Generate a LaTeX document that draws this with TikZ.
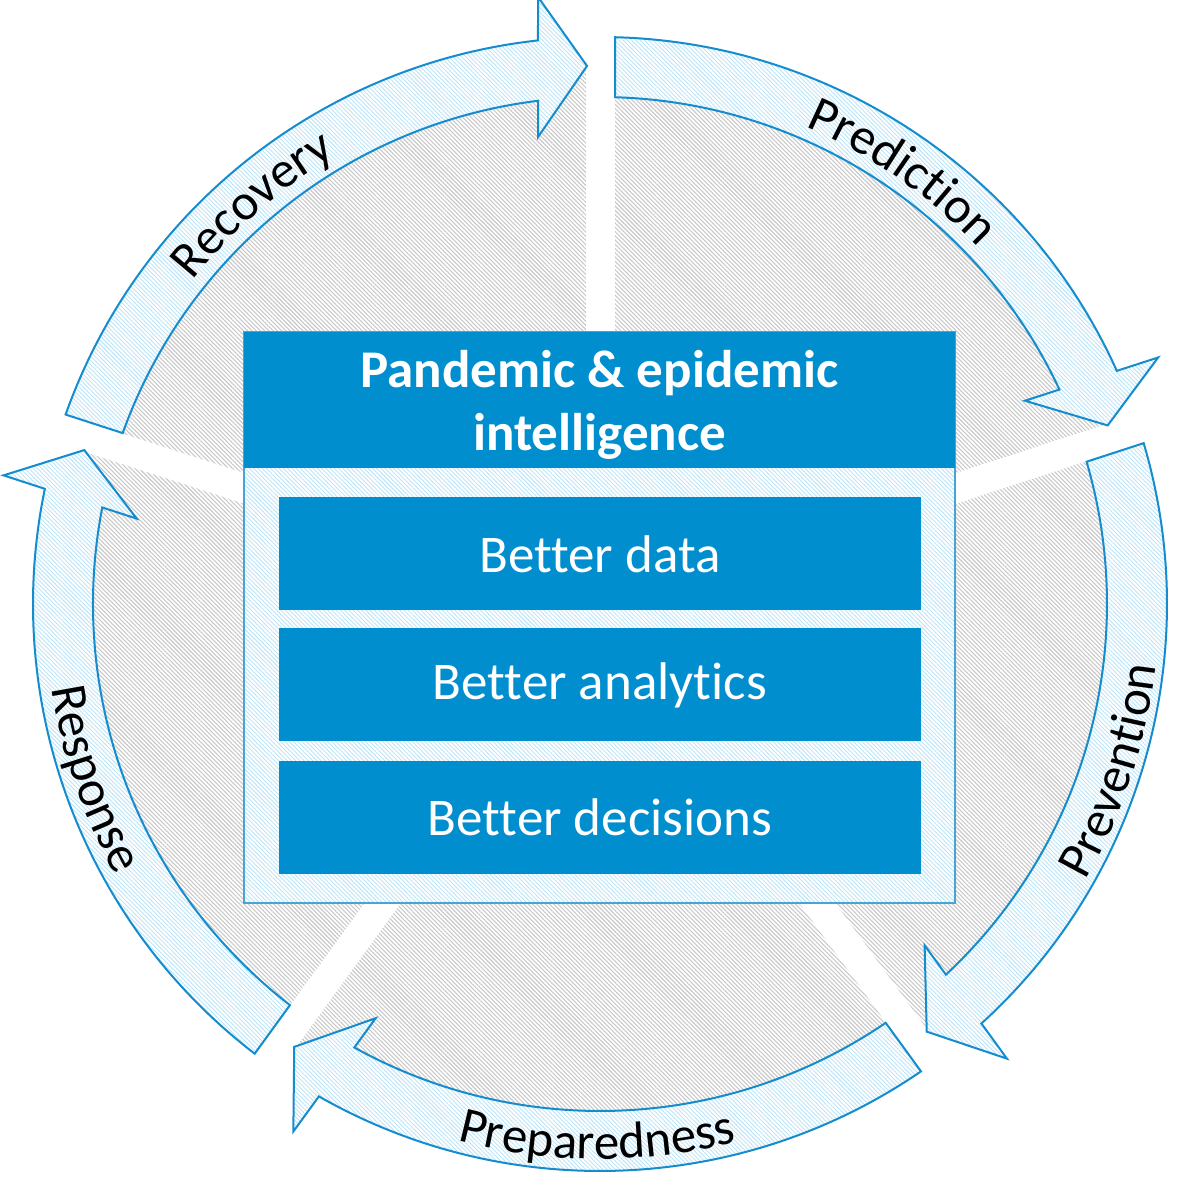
\documentclass[tikz,border=0pt]{standalone}
\usepackage{fontspec}
\setmainfont{Carlito}[Ligatures=CommonOff]
\usetikzlibrary{patterns.meta,decorations.text}
\definecolor{hdrblue}{RGB}{0,142,206}
\definecolor{arrowline}{RGB}{20,140,205}
\definecolor{hatchblue}{RGB}{188,229,248}
\definecolor{hatchgray}{RGB}{200,200,200}
\definecolor{boxline}{RGB}{70,165,215}
\newcommand\lblfont{\fontsize{51}{51}\selectfont}
\newcommand\ringarrow[1]{%
  \path[arrowshape] ({88.48+#1}:567) arc[start angle={88.48+#1}, end angle={24.28+#1}, radius=567]
    -- ({23.83+#1}:610.2) -- ({19.38+#1}:538.2) -- ({25.56+#1}:471.1)
    -- ({25.02+#1}:507) arc[start angle={25.02+#1}, end angle={88.30+#1}, radius=507] -- cycle;}
\begin{document}
\begin{tikzpicture}[x=1pt,y=1pt,
  arrowshape/.style={draw=arrowline, line width=2pt, line join=miter, preaction={fill=white},
    pattern={Lines[angle=-45,distance=3pt,line width=0.9pt]}, pattern color=hatchblue},
  grayhatch/.style={pattern={Lines[angle=-45,distance=3pt,line width=1.1pt]}, pattern color=hatchgray},
  gapband/.style={fill=white},
  barbox/.style={fill=hdrblue, text=white, minimum width=642pt, minimum height=113pt, inner sep=0pt,
    font=\fontsize{53}{63}\selectfont},
  arclabel/.style={decorate, decoration={text along path, text align=center, text={|\lblfont|#1}}}
]
\useasboundingbox (-600,-578) rectangle (576,604);
% gray sectors
\path[grayhatch] (0,0) circle[radius=537];
\foreach \a in {90,18,-54,-126,162}
  \fill[gapband, rotate=\a] (0,-14.5) rectangle (640,14.5);
% ring arrows
\ringarrow{72}   % Recovery
\ringarrow{0}    % Prediction
\ringarrow{288}  % Prevention
\ringarrow{216}  % Preparedness
\ringarrow{144}  % Response
% labels along arcs
\path[arclabel=Recovery] (161:520) arc[start angle=161, end angle=101, radius=520];
\path[arclabel=Prediction] (85:520) arc[start angle=85, end angle=25, radius=520];
\path[arclabel=Prevention] (-48:559) arc[start angle=-48, end angle=12, radius=559];
\path[arclabel=Preparedness] (-120.3:555) arc[start angle=-120.3, end angle=-60.3, radius=555];
\path[arclabel=Response] (169:555) arc[start angle=169, end angle=229, radius=555];
% central box
\node[draw=boxline, line width=1.5pt, preaction={fill=white},
  pattern={Lines[angle=-45,distance=3pt,line width=0.9pt]}, pattern color=hatchblue,
  minimum width=711pt, minimum height=571pt, inner sep=0pt] (frame) at (-0.5,-13.5) {};
\node[fill=hdrblue, minimum width=711pt, minimum height=136pt, inner sep=0pt] (header) at (-0.5,204) {};
\node[text=white, align=center, inner sep=0pt,
  font=\bfseries\fontsize{53}{63}\selectfont] (title) at (-0.5,199) {Pandemic \& epidemic\\intelligence};
\node[barbox] (data) at (0,50) {Better data};
\node[barbox] (analytics) at (0,-81) {Better analytics};
\node[barbox] (decisions) at (0,-213) {Better decisions};
\end{tikzpicture}
\end{document}
